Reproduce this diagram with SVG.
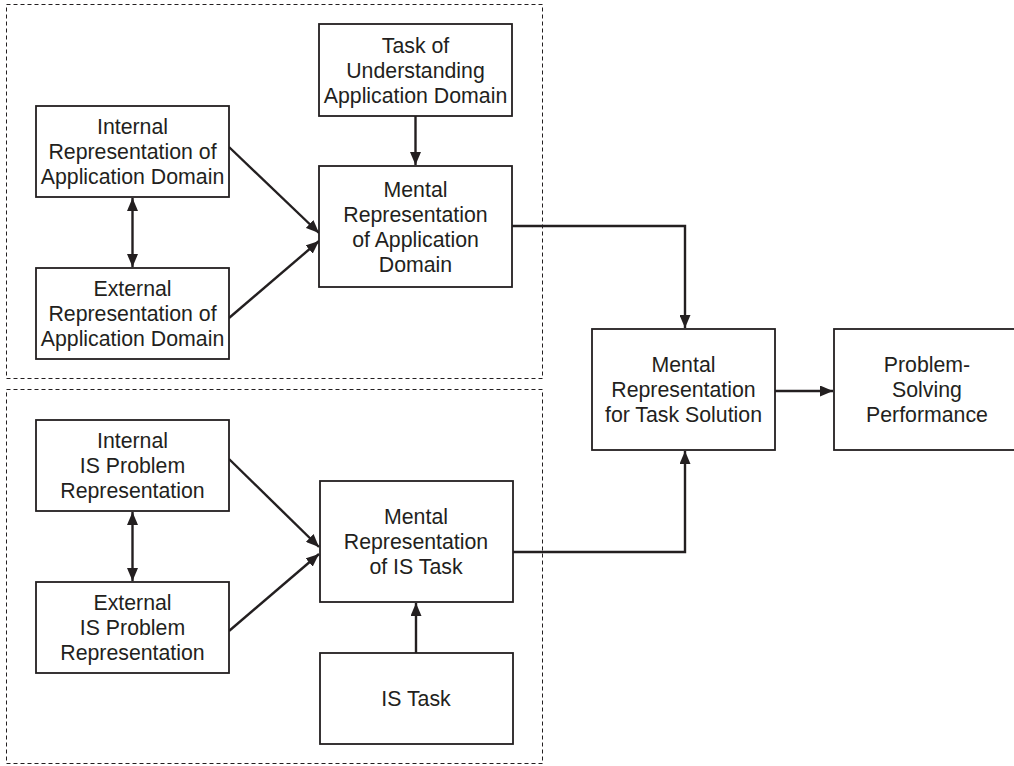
<svg xmlns="http://www.w3.org/2000/svg" width="1014" height="766" viewBox="0 0 1014 766">
  <style>
    .box { fill: #ffffff; stroke: #231f20; stroke-width: 1.8; }
    .group { fill: none; stroke: #231f20; stroke-width: 1; stroke-dasharray: 4 3; }
    .conn { fill: none; stroke: #231f20; stroke-width: 2.4; }
    text { font-family: "Liberation Sans", Arial, Helvetica, sans-serif; font-size: 21.3px; fill: #231f20; text-anchor: middle; }
  </style>
  <defs>
    <marker id="arrow" viewBox="0 0 13 11" refX="13" refY="5.5" markerWidth="13" markerHeight="11" markerUnits="userSpaceOnUse" orient="auto-start-reverse">
      <path d="M0,0 L13,5.5 L0,11 z" fill="#231f20"/>
    </marker>
  </defs>
  <rect width="1014" height="766" fill="#ffffff"/>

  <!-- grouping frames -->
  <g id="frames">
    <rect class="group" x="6.5" y="4.5" width="536" height="374"/>
    <rect class="group" x="6.5" y="389.5" width="536" height="374"/>
  </g>

  <!-- connectors -->
  <g id="connectors">
    <line class="conn" x1="229" y1="147" x2="319" y2="233" marker-end="url(#arrow)"/>
    <line class="conn" x1="229" y1="318" x2="319" y2="241" marker-end="url(#arrow)"/>
    <line class="conn" x1="132.5" y1="198" x2="132.5" y2="267" marker-start="url(#arrow)" marker-end="url(#arrow)"/>
    <line class="conn" x1="415.5" y1="116" x2="415.5" y2="165" marker-end="url(#arrow)"/>
    <polyline class="conn" points="512,226 685,226 685,328" marker-end="url(#arrow)"/>

    <line class="conn" x1="229" y1="459" x2="319" y2="547" marker-end="url(#arrow)"/>
    <line class="conn" x1="229" y1="631" x2="319" y2="554" marker-end="url(#arrow)"/>
    <line class="conn" x1="132.5" y1="512" x2="132.5" y2="581" marker-start="url(#arrow)" marker-end="url(#arrow)"/>
    <line class="conn" x1="416" y1="653" x2="416" y2="603" marker-end="url(#arrow)"/>
    <polyline class="conn" points="513,552 685,552 685,451" marker-end="url(#arrow)"/>

    <line class="conn" x1="775" y1="391" x2="833" y2="391" marker-end="url(#arrow)"/>
  </g>

  <g id="internal-app">
    <rect class="box" x="36" y="106" width="193" height="91"/>
    <text x="132.5" y="134">Internal</text>
    <text x="132.5" y="159">Representation of</text>
    <text x="132.5" y="184">Application Domain</text>
  </g>

  <g id="external-app">
    <rect class="box" x="36" y="268" width="193" height="91"/>
    <text x="132.5" y="296">External</text>
    <text x="132.5" y="321">Representation of</text>
    <text x="132.5" y="346">Application Domain</text>
  </g>

  <g id="task-understanding">
    <rect class="box" x="319" y="24" width="193" height="92"/>
    <text x="415.5" y="53">Task of</text>
    <text x="415.5" y="78">Understanding</text>
    <text x="415.5" y="103">Application Domain</text>
  </g>

  <g id="mental-app">
    <rect class="box" x="319" y="166" width="193" height="121"/>
    <text x="415.5" y="197">Mental</text>
    <text x="415.5" y="222">Representation</text>
    <text x="415.5" y="247">of Application</text>
    <text x="415.5" y="272">Domain</text>
  </g>

  <g id="internal-is">
    <rect class="box" x="36" y="420" width="193" height="91"/>
    <text x="132.5" y="448">Internal</text>
    <text x="132.5" y="473">IS Problem</text>
    <text x="132.5" y="498">Representation</text>
  </g>

  <g id="external-is">
    <rect class="box" x="36" y="582" width="193" height="91"/>
    <text x="132.5" y="610">External</text>
    <text x="132.5" y="635">IS Problem</text>
    <text x="132.5" y="660">Representation</text>
  </g>

  <g id="mental-is-task">
    <rect class="box" x="320" y="481" width="193" height="121"/>
    <text x="416" y="524">Mental</text>
    <text x="416" y="549">Representation</text>
    <text x="416" y="574">of IS Task</text>
  </g>

  <g id="is-task">
    <rect class="box" x="320" y="653" width="193" height="91"/>
    <text x="416" y="706">IS Task</text>
  </g>

  <g id="task-solution">
    <rect class="box" x="592" y="329" width="183" height="121"/>
    <text x="683.5" y="372">Mental</text>
    <text x="683.5" y="397">Representation</text>
    <text x="683.5" y="422">for Task Solution</text>
  </g>

  <g id="performance">
    <rect class="box" x="834" y="329" width="186" height="121"/>
    <text x="927" y="372">Problem-</text>
    <text x="927" y="397">Solving</text>
    <text x="927" y="422">Performance</text>
  </g>
</svg>
